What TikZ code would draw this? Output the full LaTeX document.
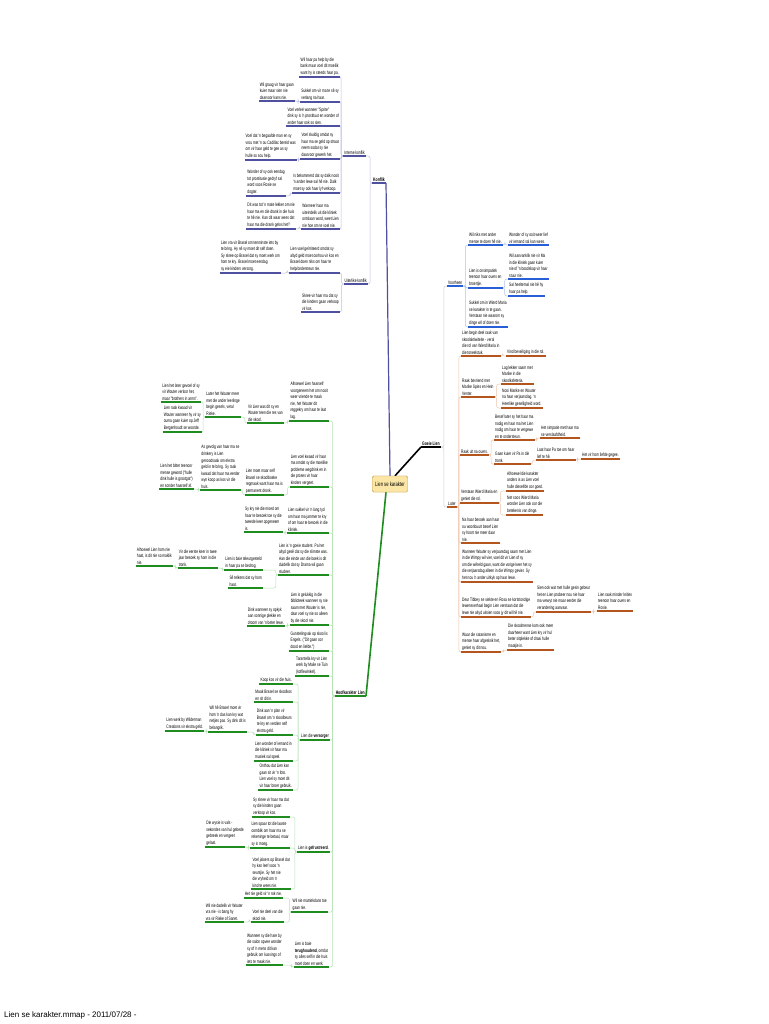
\documentclass[tikz,border=0pt]{standalone}
\usepackage{fontspec}
\setmainfont{Liberation Sans}
\newfontfamily\mmfont{Liberation Sans}[FakeStretch=0.67]

\definecolor{konf}{RGB}{80,80,160}
\definecolor{konfl}{RGB}{190,190,228}
\definecolor{voor}{RGB}{40,95,215}
\definecolor{voorl}{RGB}{175,195,240}
\definecolor{later}{RGB}{180,85,30}
\definecolor{laterl}{RGB}{236,196,172}
\definecolor{hoofc}{RGB}{30,140,30}
\definecolor{hoofl}{RGB}{182,226,182}
\definecolor{goeil}{RGB}{205,205,205}
\definecolor{rootbg}{RGB}{252,230,165}
\definecolor{rootln}{RGB}{200,170,95}

\tikzset{
  tp/.style={inner xsep=1pt, inner ysep=1.2pt, align=left, font=\mmfont\fontsize{4.9}{6.6}\selectfont},
  ln/.style={tp, anchor=south east},
  rn/.style={tp, anchor=south west},
  hoof/.style={tp, font=\mmfont\bfseries\fontsize{5.1}{6.6}\selectfont},
  root/.style={draw=rootln, fill=rootbg, rounded corners=1.5pt, inner xsep=3pt, minimum height=16pt, font=\mmfont\fontsize{6.2}{7}\selectfont},
  konlink/.style={draw=konfl, line width=0.5pt, rounded corners=2pt},
  goelink/.style={draw=goeil, line width=0.5pt, rounded corners=2pt},
  voorlink/.style={draw=voorl, line width=0.5pt, rounded corners=2pt},
  latlink/.style={draw=laterl, line width=0.5pt, rounded corners=2pt},
  hooflink/.style={draw=hoofl, line width=0.5pt, rounded corners=2pt},
}

\begin{document}
\begin{tikzpicture}[x=1pt,y=-1pt]
\fill[white] (0,0) rectangle (768,1024);
\useasboundingbox (0,0) rectangle (768,1024);

% Konflik
\node[hoof, anchor=south east] (kf) at (386,183) {Konflik};
\node[ln] (ik) at (366,156) {Interne konflik};
\node[ln] (uk) at (368,284) {Uiterlike konflik};
\node[ln] (k1) at (340,77) {Wil haar pa help by die\\bank maar voel dit moeilik\\want hy is steeds haar pa.};
\node[ln] (k2) at (340,102) {Sukkel om vir ma te sê sy\\verlang na haar.};
\node[ln] (k2a) at (295,101) {Wil graag vir haar gaan\\kuier maar sien nie\\daarvoor kans nie.};
\node[ln] (k3) at (340,126) {Voel verleë wanneer "Sprite"\\dink sy is 'n prostituut en wonder of\\ander haar ook so sien.};
\node[ln] (k4) at (340,159) {Voel skuldig omdat sy\\haar ma se geld op straat\\neem sodat sy nie\\daarvoor gewerk het.};
\node[ln] (k4a) at (297,160) {Voel dat 'n begaafde man en sy\\vrou met 'n ou Cadillac bereid was\\om vir haar geld te gee as sy\\hulle so sou help.};
\node[ln] (k5) at (340,193) {Is bekommerd dat sy dalk nooit\\'n ander lewe sal hê nie. Dalk\\moet sy ook haar lyf verkoop.};
\node[ln] (k5a) at (286,196) {Wonder of sy ook eendag\\tot prostitusie gedryf sal\\word soos Rosie se\\dogter.};
\node[ln] (k6) at (340,229) {Wanneer haar ma\\uiteindelik uit die kliniek\\ontslaan word, weet Lien\\nie hoe om te voel nie.};
\node[ln] (k6a) at (296,229) {Dit was tot 'n mate lekker om nie\\haar ma en die drank in die huis\\te hê nie. Kan dit waar wees dat\\haar ma die drank gelos het?};
\node[ln] (k7) at (340,273) {Lien voel geïrriteerd omdat sy\\altyd geld moet oorhou vir kos en\\Brasel doen niks om haar te\\help/ondersteun nie.};
\node[ln] (k7a) at (281,273) {Lien vra vir Brasel om tenminste iets by\\te bring. Hy sê sy moet dit self doen.\\Sy skree op Brasel dat sy moet werk om\\hom te kry. Brasel moet eendag\\sy eie kinders versorg.};
\node[ln] (k8) at (340,312) {Skree vir haar ma dat sy\\die kinders gaan verkoop\\vir kos.};

% Goeie Lien
\node[hoof, anchor=south west] (gl) at (421,447) {Goeie Lien};
\node[rn] (vh) at (447,286) {Voorheen};
\node[rn] (lt) at (447,507) {Later};
\node[rn] (v1) at (468,245) {Wil niks met ander\\mense te doen hê nie.};
\node[rn] (v1a) at (508,245) {Wonder of sy ooit weer lief\\vir iemand sal kan wees.};
\node[rn] (v2) at (468,288) {Lien is onsimpatiek\\teenoor haar ouers en\\broertjie.};
\node[rn] (v2a) at (508,279) {Wil aanvanklik nie vir Ma\\in die kliniek gaan kuier\\nie of 'n boodskap vir haar\\stuur nie.};
\node[rn] (v2b) at (508,296) {Sal heeltemal nie hê hy\\haar pa help.};
\node[rn] (v3) at (468,327) {Sukkel om in Wierd Maria\\se karakter in te gaan.\\Verstaan nie waarom sy\\dinge wil of doen nie.};

\node[rn] (l1) at (461,356) {Lien begin deel raak van\\skoolaktiwiteite - veral\\die rol van Wierd Maria in\\die toneelstuk.};
\node[rn] (l1a) at (506,356) {Vind beveiliging in die rol.};
\node[rn] (l2) at (461,397) {Raak bevriend met\\Marike Spies en Hein\\Venter.};
\node[rn] (l2a) at (501,384) {Lag lekker saam met\\Marike in die\\skoolkafeteria.};
\node[rn] (l2b) at (501,408) {Nooi Marike en Wouter\\na haar verjaarsdag. 'n\\Heerlike geselligheid word.};
\node[rn] (l3) at (460,455) {Raak uit na ouers.};
\node[rn] (l3a) at (494,440) {Besef later sy het haar ma\\nodig en haar ma het Lien\\nodig om haar te vergewe\\en te ondersteun.};
\node[rn] (l3b) at (540,438) {Het simpatie met haar ma\\se verslaafdheid.};
\node[rn] (l3c) at (494,464) {Gaan kuier vir Pa in die\\tronk.};
\node[rn] (l3d) at (536,460) {Laat haar Pa toe om haar\\lief te hê.};
\node[rn] (l3e) at (581,459) {Het vir hom liefde gegee.};
\node[rn] (l4) at (460,503) {Verstaan Wierd Maria en\\geniet die rol.};
\node[rn] (l4a) at (506,491) {Alhoewel die karakter\\anders is as Lien voel\\hulle dieselfde oor goed.};
\node[rn] (l4b) at (506,515) {Net soos Wierd Maria\\wonder Lien ook oor die\\betekenis van dinge.};
\node[rn] (l5) at (461,543) {Na haar besoek aan haar\\ou woonbuurt besef Lien\\sy hoort nie meer daar\\nie.};
\node[rn] (l6) at (461,582) {Wanneer Wouter sy verjaarsdag saam met Lien\\in die Wimpy wil vier, voel dit vir Lien of sy\\om die wêreld gaan, want die vorige keer het sy\\die verjaarsdag alleen in die Wimpy gevier. Sy\\het nou 'n ander uitkyk op haar lewe.};
\node[rn] (l7) at (461,617) {Deur Tibbey se siekte en Rosa se kortstondige\\lewensverhaal begin Lien verstaan dat die\\lewe nie altyd uitsien soos jy dit wil hê nie.};
\node[rn] (l7a) at (536,612) {Sien ook wat met hulle gesin gebeur\\het en Lien probeer nou nie haar\\ma verwyt nie maar eerder die\\verandering aanvaar.};
\node[rn] (l7b) at (597,611) {Lien raak minder krities\\teenoor haar ouers en\\Rosie.};
\node[rn] (l8) at (461,652) {Waar die satanisme en\\mense haar afgeskrik het,\\geniet sy dit nou.};
\node[rn] (l8a) at (507,650) {Die skoolmense kom ook meer\\daarheen want Lien kry vir hul\\beter sitplekke of draai hulle\\maatjie in.};

% Hoofkarakter Lien
\node[hoof, anchor=south east] (hk) at (366,696) {Hoofkarakter Lien};
\node[ln] (h1) at (329,421) {Alhoewel Lien haarself\\voorgeneem het om nooit\\weer vriende te maak\\nie, het Wouter dit\\reggekry om haar te laat\\lag.};
\node[ln] (h1a) at (284,423) {Vir Lien was dit sy en\\Wouter teen die res van\\die skool.};
\node[ln] (h1b) at (241,417) {Later het Wouter meer\\met die ander leerlinge\\begin gesels, veral\\Rieke.};
\node[ln] (h1c) at (201,402) {Lien het later gevoel of sy\\vir Wouter verloor het,\\maar "brothers in arms".};
\node[ln] (h1d) at (202,432) {Lien raak kwaad vir\\Wouter wanneer hy vir sy\\ouma gaan kuier op Jeff\\Bergenhoudt se woorde.};
\node[ln] (h2) at (329,487) {Lien voel kwaad vir haar\\ma omdat sy die moeilike\\probleme wegdrink en in\\die proses vir haar\\kinders vergeet.};
\node[ln] (h2a) at (284,495) {Lien moet maar self\\Brasel se skoolboeke\\regmaak want haar ma is\\permanent dronk.};
\node[ln] (h2b) at (241,490) {As gevolg van haar ma se\\drinkery is Lien\\genoodsaak om ekstra\\geld in te bring. Sy raak\\kwaad dat haar ma eerder\\wyn koop as kos vir die\\huis.};
\node[ln] (h2c) at (194,489) {Lien het bitter teenoor\\mense geword ("hulle\\dink hulle is grootgat")\\en sonder haarself af.};
\node[ln] (h3) at (329,533) {Lien sukkel vir 'n lang tyd\\om haar ma jammer te kry\\of om haar te besoek in die\\kliniek.};
\node[ln] (h3a) at (283,532) {Sy kry nie die moed om\\haar te besoek toe sy die\\tweede keer opgeneem\\is.};
\node[ln] (h4) at (329,575) {Lien is 'n goeie student. Pa het\\altyd gesê dat sy die slimste was.\\Aan die einde van die boek is dit\\duidelik dat sy Drama wil gaan\\studeer.};
\node[ln] (h4a) at (263,570) {Lien is baie teleurgesteld\\in haar pa se bedrog.};
\node[ln] (h4b) at (218,568) {Vir die eerste keer in twee\\jaar besoek sy hom in die\\tronk.};
\node[ln] (h4c) at (173,566) {Alhoewel Lien hom nie\\haat, is dit nie so maklik\\nie.};
\node[ln] (h4d) at (263,588) {Sê telkens dat sy hom\\haat.};
\node[ln] (h5) at (329,625) {Lien is gelukkig in die\\biblioteek wanneer sy nie\\saam met Wouter is nie,\\daar voel sy nie so alleen\\by die skool nie.};
\node[ln] (h5a) at (285,626) {Dink wanneer sy opkyk\\aan sonnige plekke en\\droom van 'n beter lewe.};
\node[ln] (h6) at (329,651) {Gunstelingvak op skool is\\Engels. ("Dit gaan oor\\dood en liefde.")};
\node[ln] (h7) at (329,676) {Tarantella kry vir Lien\\werk by Malie se Tuin\\(koffiewinkel).};
\node[ln] (h8) at (330,740) {Lien die \textbf{versorger}};
\node[ln] (h8a) at (293,684) {Koop kos vir die huis.};
\node[ln] (h8b) at (293,702) {Maak Brasel se skoolkos\\en sit dit in.};
\node[ln] (h8c) at (293,735) {Dink aan 'n plan vir\\Brasel om 'n skoolbeurs\\te kry en verdien self\\ekstra geld.};
\node[ln] (h8d) at (247,732) {Wil hê Brasel moet vir\\hom 'n das kan kry wat\\netjies pas. Sy dink dit is\\belangrik.};
\node[ln] (h8e) at (204,731) {Lien werk by Wilderman\\Creations vir ekstra geld.};
\node[ln] (h8f) at (293,761) {Lien wonder of iemand in\\die kliniek vir haar ma\\musiek sal speel.};
\node[ln] (h8g) at (293,790) {Onthou dat Lien kan\\gaan sit vir 'n foto.\\Lien voel sy moet dit\\vir haar broer gebruik.};
\node[ln] (h9) at (330,852) {Lien is \textbf{gefrustreerd}.};
\node[ln] (h9a) at (290,817) {Sy skree vir haar ma dat\\sy die kinders gaan\\verkoop vir kos.};
\node[ln] (h9b) at (290,848) {Lien spaar tot die laaste\\oomblik om haar ma se\\rekeninge te betaal, maar\\sy is moeg.};
\node[ln] (h9c) at (245,847) {Die wysie is vals -\\sekondes van hul gebede\\gebreek en vergeet\\gelaat.};
\node[ln] (h9d) at (291,889) {Voel jaloers op Brasel dat\\hy kan leef soos 'n\\seuntjie. Sy het nie\\die vryheid om 'n\\kind te wees nie.};
\node[ln] (h10) at (328,912) {Wil nie matriekdans toe\\gaan nie.};
\node[ln] (h10a) at (283,898) {Het nie geld vir 'n rok nie.};
\node[ln] (h10b) at (284,922) {Voel nie deel van die\\skool nie.};
\node[ln] (h10c) at (244,922) {Wil nie dadelik vir Wouter\\vra nie - is bang hy\\vra vir Rieke of Sanet.};
\node[ln] (h11) at (329,967) {Lien is baie\\\textbf{terughoudend}, omdat\\sy alles self in die huis\\moet doen en werk.};
\node[ln] (h11a) at (283,965) {Wanneer sy die hare by\\die salon opvee wonder\\sy of 'n mens dit kan\\gebruik om kussings of\\iets te maak nie.};

% connectors
\foreach \p/\c in {kf/ik,kf/uk,ik/k1,ik/k2,ik/k3,ik/k4,ik/k5,ik/k6,k2/k2a,k4/k4a,k5/k5a,k6/k6a,uk/k7,uk/k8,k7/k7a}
  \draw[konlink] (\p.south west) -- ++(-2,0) |- (\c.south east);
\foreach \p/\c in {gl/vh,gl/lt}
  \draw[goelink] (\p.south east) -- ++(3,0) |- (\c.south west);
\foreach \p/\c in {vh/v1,vh/v2,vh/v3,v1/v1a,v2/v2a,v2/v2b}
  \draw[voorlink] (\p.south east) -- ++(2,0) |- (\c.south west);
\foreach \p/\c in {lt/l1,lt/l2,lt/l3,lt/l4,lt/l5,lt/l6,lt/l7,lt/l8,l1/l1a,l2/l2a,l2/l2b,l3/l3a,l3/l3c,l3a/l3b,l3c/l3d,l3d/l3e,l4/l4a,l4/l4b,l7/l7a,l7a/l7b,l8/l8a}
  \draw[latlink] (\p.south east) -- ++(2,0) |- (\c.south west);
\foreach \p/\c in {hk/h1,hk/h2,hk/h3,hk/h4,hk/h5,hk/h6,hk/h7,hk/h8,hk/h9,hk/h10,hk/h11,h1/h1a,h1a/h1b,h1b/h1c,h1b/h1d,h2/h2a,h2a/h2b,h2b/h2c,h3/h3a,h4/h4a,h4/h4d,h4a/h4b,h4b/h4c,h5/h5a,h8/h8a,h8/h8b,h8/h8c,h8/h8f,h8/h8g,h8c/h8d,h8d/h8e,h9/h9a,h9/h9b,h9/h9d,h9b/h9c,h10/h10a,h10/h10b,h10b/h10c,h11/h11a}
  \draw[hooflink] (\p.south west) -- ++(-2,0) |- (\c.south east);

% underlines
\foreach \n in {kf,ik,uk,k1,k2,k2a,k3,k4,k4a,k5,k5a,k6,k6a,k7,k7a,k8}
  \draw[konf, line width=1.2pt] (\n.south west) -- (\n.south east);
\draw[black, line width=1.2pt] (gl.south west) -- (gl.south east);
\foreach \n in {vh,v1,v1a,v2,v2a,v2b,v3}
  \draw[voor, line width=1.2pt] (\n.south west) -- (\n.south east);
\foreach \n in {lt,l1,l1a,l2,l2a,l2b,l3,l3a,l3b,l3c,l3d,l3e,l4,l4a,l4b,l5,l6,l7,l7a,l7b,l8,l8a}
  \draw[later, line width=1.2pt] (\n.south west) -- (\n.south east);
\foreach \n in {hk,h1,h1a,h1b,h1c,h1d,h2,h2a,h2b,h2c,h3,h3a,h4,h4a,h4b,h4c,h4d,h5,h5a,h6,h7,h8,h8a,h8b,h8c,h8d,h8e,h8f,h8g,h9,h9a,h9b,h9c,h9d,h10,h10a,h10b,h10c,h11,h11a}
  \draw[hoofc, line width=1.2pt] (\n.south west) -- (\n.south east);

% main branches
\node[root] (lsk) at (390,484) {Lien se karakter};
\draw[konf, line width=1.2pt] (lsk.north) -- (kf.south east);
\draw[black, line width=1.6pt] ([xshift=5pt]lsk.north) -- (gl.south west);
\draw[hoofc, line width=1.6pt] ([xshift=-4pt]lsk.south) -- (hk.south east);
\node[root] at (lsk) {Lien se karakter};

\node[anchor=base west, inner sep=0, font=\fontsize{8}{9}\selectfont] (cap) at (4,1017) {Lien se karakter.mmap - 2011/07/28 -};
\end{tikzpicture}
\end{document}
